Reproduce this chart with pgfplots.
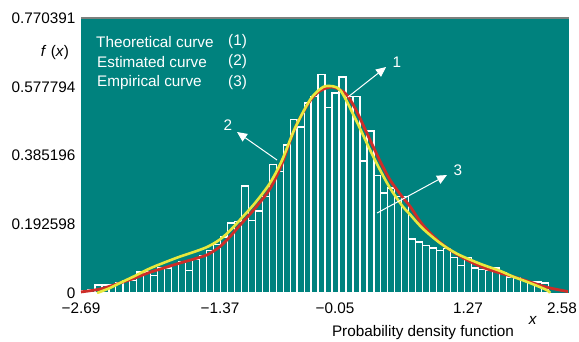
\documentclass[border=0pt]{standalone}
\usepackage{fontspec}
\setmainfont{Liberation Sans}
\usepackage{pgfplots}
\pgfplotsset{compat=1.18}
\usepackage{pgfplotstable}
\usetikzlibrary{arrows.meta}
\definecolor{tealbg}{RGB}{0,130,126}
\definecolor{redc}{RGB}{205,45,40}
\definecolor{yelc}{RGB}{232,232,60}
\definecolor{topgrey}{RGB}{125,128,125}

\pgfplotstableread{
x h
-2.690 0.006
-2.615 0.010
-2.539 0.022
-2.464 0.022
-2.389 0.022
-2.314 0.030
-2.238 0.036
-2.163 0.036
-2.088 0.059
-2.012 0.059
-1.937 0.050
-1.862 0.070
-1.786 0.070
-1.711 0.080
-1.636 0.087
-1.561 0.064
-1.485 0.095
-1.410 0.105
-1.335 0.120
-1.259 0.135
-1.184 0.157
-1.109 0.196
-1.033 0.200
-0.958 0.300
-0.883 0.204
-0.808 0.230
-0.732 0.270
-0.657 0.360
-0.582 0.340
-0.506 0.415
-0.431 0.487
-0.356 0.465
-0.280 0.532
-0.205 0.550
-0.130 0.613
-0.055 0.520
0.021 0.560
0.096 0.605
0.171 0.550
0.247 0.550
0.322 0.370
0.397 0.454
0.473 0.330
0.548 0.280
0.623 0.294
0.699 0.270
0.774 0.270
0.849 0.151
0.924 0.143
1.000 0.134
1.075 0.126
1.150 0.120
1.226 0.125
1.301 0.100
1.376 0.078
1.452 0.100
1.527 0.070
1.602 0.066
1.677 0.064
1.753 0.070
1.828 0.056
1.903 0.045
1.979 0.042
2.054 0.036
2.129 0.031
2.205 0.031
2.280 0.028
2.355 0.000
}\histdata

\pgfplotstableread{
x y
-2.690 0.003
-2.485 0.011
-2.269 0.028
-2.107 0.042
-1.945 0.058
-1.783 0.071
-1.621 0.084
-1.459 0.096
-1.319 0.108
-1.189 0.130
-1.080 0.158
-0.973 0.190
-0.811 0.237
-0.649 0.292
-0.519 0.362
-0.379 0.462
-0.217 0.538
-0.109 0.566
0.020 0.577
0.161 0.560
0.269 0.518
0.431 0.429
0.539 0.370
0.647 0.317
0.777 0.270
0.863 0.243
1.003 0.190
1.187 0.142
1.370 0.108
1.619 0.075
1.835 0.056
1.975 0.046
2.159 0.031
2.342 0.016
2.569 0.004
}\theor

\pgfplotstableread{
x y
-2.517 0.000
-2.377 0.014
-2.269 0.028
-2.107 0.048
-1.945 0.069
-1.783 0.086
-1.621 0.102
-1.459 0.116
-1.319 0.130
-1.189 0.150
-1.080 0.175
-0.973 0.205
-0.811 0.252
-0.649 0.308
-0.519 0.372
-0.379 0.462
-0.217 0.541
-0.109 0.571
-0.033 0.580
0.107 0.569
0.269 0.490
0.431 0.401
0.539 0.345
0.647 0.294
0.777 0.245
0.863 0.220
1.003 0.180
1.187 0.140
1.370 0.110
1.619 0.082
1.835 0.062
1.975 0.046
2.159 0.028
2.342 0.008
2.375 0.000
}\estim

\begin{document}
\begin{tikzpicture}[font=\fontsize{15.3}{18}\selectfont]
\useasboundingbox (-81pt,-48pt) rectangle (498pt,293pt);
\begin{axis}[
  scale only axis, width=488pt, height=275pt,
  at={(0pt,0pt)}, anchor=south west,
  xmin=-2.69, xmax=2.58, ymin=0, ymax=0.770391,
  axis background/.style={fill=tealbg},
  axis line style={draw=none},
  major tick length=0pt,
  xtick={-2.69,-1.189,0.053,1.489,2.504},
  xticklabels={−2.69,−1.37,−0.05,1.27,2.58},
  ytick={0,0.192598,0.385196,0.577794,0.770391},
  yticklabels={0,0.192598,0.385196,0.577794,0.770391},
  xticklabel style={font=\fontsize{15.3}{18}\selectfont, yshift=-6pt},
  yticklabel style={font=\fontsize{15.3}{18}\selectfont, xshift=-2pt},
]
\addplot[ybar interval, draw=white, fill=none, line width=1.3pt] table[x=x, y=h] {\histdata};
\addplot[redc, line width=2.8pt, smooth, tension=0.5] table[x=x, y=y] {\theor};
\addplot[yelc, line width=2.6pt, smooth, tension=0.5] table[x=x, y=y] {\estim};
\draw[white, line width=1pt, -{Triangle[length=10pt,width=9pt]}] (axis cs:0.193,0.549) -- (axis cs:0.604,0.633);
\draw[white, line width=1pt, -{Triangle[length=10pt,width=9pt]}] (axis cs:-0.573,0.3725) -- (axis cs:-1.005,0.451);
\draw[white, line width=1pt, -{Triangle[length=10pt,width=9pt]}] (axis cs:0.507,0.224) -- (axis cs:1.262,0.3305);
\node[white] at (axis cs:0.722,0.646) {1};
\node[white] at (axis cs:-1.103,0.471) {2};
\node[white] at (axis cs:1.381,0.344) {3};
\end{axis}
\draw[topgrey, line width=2pt] (0pt,275pt) -- (488pt,275pt);
\node[white, anchor=west, inner sep=0pt] at (15pt,251pt) {Theoretical curve};
\node[white, anchor=west, inner sep=0pt] at (147pt,251pt) {(1)};
\node[white, anchor=west, inner sep=0pt] at (16pt,231pt) {Estimated curve};
\node[white, anchor=west, inner sep=0pt] at (147pt,231pt) {(2)};
\node[white, anchor=west, inner sep=0pt] at (16pt,210pt) {Empirical curve};
\node[white, anchor=west, inner sep=0pt] at (147pt,210pt) {(3)};
\node at (-26pt,240pt) {\textit{f} (\textit{x})};
\node at (452pt,-27pt) {\textit{x}};
\node at (342pt,-40pt) {Probability density function};
\end{tikzpicture}
\end{document}
